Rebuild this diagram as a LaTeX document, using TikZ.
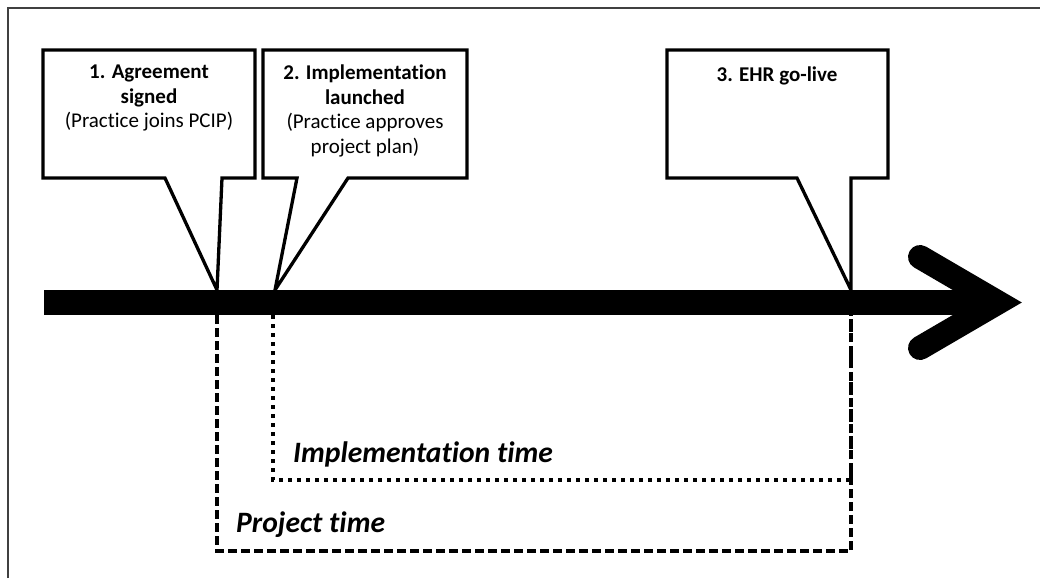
\documentclass[tikz,border=0pt]{standalone}
\usepackage{fontspec}
\setmainfont{Carlito}[Ligatures=NoCommon]
\begin{document}
\begin{tikzpicture}[x=1pt,y=-1pt,
  callout/.style={draw=black, fill=white, line width=3.3pt, line join=miter},
  boxtext/.style={font=\fontsize{21}{24.5}\selectfont, align=center, anchor=north, inner sep=0pt},
  timelabel/.style={font=\fontsize{29.6}{31}\selectfont\bfseries\itshape, anchor=base west, inner sep=0pt},
  projline/.style={line width=3.4pt, dash pattern=on 9pt off 4pt},
  implline/.style={line width=4pt, dash pattern=on 4pt off 5pt},
]
\useasboundingbox (0,0) rectangle (1040,578);
\draw[black!75, line width=1.2pt] (8,578) -- (8,8) -- (1040,8);

% callout tips on the time line
\coordinate (t1) at (217,290);
\coordinate (t2) at (275,290);
\coordinate (t3) at (851,290);

\draw[callout] (43,50) -- (255,50) -- (255,178) -- (222,178) -- (t1) -- (165,178) -- (43,178) -- cycle;
\draw[callout] (263,50) -- (467,50) -- (467,178) -- (348,178) -- (t2) -- (297,178) -- (263,178) -- cycle;
\draw[callout] (667,50) -- (888,50) -- (888,178) -- (851,178) -- (t3) -- (797,178) -- (667,178) -- cycle;

\node[boxtext] (b1) at (149,65) {\textbf{1. Agreement}\\\textbf{signed}\\(Practice joins PCIP)};
\node[boxtext] (b2) at (365,65) {\textbf{2. Implementation}\\\textbf{launched}\\(Practice approves\\project plan)};
\node[boxtext] (b3) at (777,67) {\textbf{3. EHR go-live}};

% main time arrow
\coordinate (start) at (44,302.5);
\coordinate (tip) at (998,302.5);
\coordinate (hu) at (920,257);
\coordinate (hl) at (920,348);
\draw[line width=25pt] (start) -- (tip);
\draw[line width=24pt, line cap=round, line join=miter] (hu) -- (tip) -- (hl);

% project time (dashed)
\coordinate (p0) at (217,315);
\coordinate (p1) at (217,551);
\coordinate (p2) at (851,551);
\coordinate (p3) at (851,315);
\draw[projline] (p0) -- (p1) -- (p2) -- (p3);

% implementation time (dotted)
\coordinate (i0) at (273,315);
\coordinate (i1) at (273,480);
\coordinate (i2) at (851,480);
\draw[implline] (i0) -- (i1) -- (i2) -- (p3);

\node[timelabel] (impl) at (293,462) {Implementation time};
\node[timelabel] (proj) at (236,532) {Project time};
\end{tikzpicture}
\end{document}
